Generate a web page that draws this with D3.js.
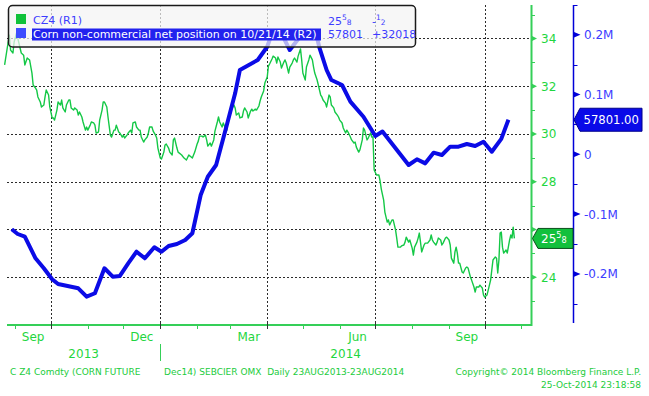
<!DOCTYPE html>
<html>
<head>
<meta charset="utf-8">
<script src="https://cdn.jsdelivr.net/npm/d3@7/dist/d3.min.js"></script>
<style>
html,body{margin:0;padding:0;background:#ffffff;overflow:hidden;}
svg{display:block;font-family:"DejaVu Sans",Verdana,sans-serif;}
</style>
</head>
<body>
<svg id="chart" width="649" height="396"></svg>
<script>
// ---------------- data ----------------
const cornSeries = [
["2013-08-23",32.89],["2013-08-26",33.85],["2013-08-27",34.14],["2013-08-28",33.51],["2013-08-30",33.39],
["2013-08-31",33.85],["2013-09-02",34.23],["2013-09-03",34.02],["2013-09-05",33.60],["2013-09-06",33.39],
["2013-09-08",33.30],["2013-09-09",32.89],["2013-09-11",33.18],["2013-09-13",33.10],["2013-09-15",32.55],
["2013-09-16",32.05],["2013-09-18",31.92],["2013-09-19",31.84],["2013-09-20",31.55],["2013-09-22",31.34],
["2013-09-23",31.13],["2013-09-25",31.21],["2013-09-26",31.55],["2013-09-27",31.84],["2013-09-29",31.63],
["2013-09-30",31.13],["2013-10-02",30.67],["2013-10-03",30.67],["2013-10-04",30.58],["2013-10-06",31.00],
["2013-10-07",31.34],["2013-10-09",31.21],["2013-10-10",31.42],["2013-10-11",31.09],["2013-10-13",30.92],
["2013-10-14",31.21],["2013-10-16",31.42],["2013-10-17",31.42],["2013-10-18",31.09],["2013-10-20",31.00],
["2013-10-21",31.09],["2013-10-23",31.00],["2013-10-24",30.79],["2013-10-25",30.92],["2013-10-27",30.71],
["2013-10-28",30.50],["2013-10-30",30.16],["2013-10-31",30.29],["2013-11-01",30.16],["2013-11-03",30.37],
["2013-11-04",30.50],["2013-11-06",30.46],["2013-11-07",30.37],["2013-11-08",30.04],["2013-11-10",30.08],
["2013-11-11",30.58],["2013-11-13",31.00],["2013-11-14",31.34],["2013-11-15",31.34],["2013-11-17",31.13],
["2013-11-18",30.71],["2013-11-20",29.95],["2013-11-21",29.87],["2013-11-23",30.16],["2013-11-24",30.16],
["2013-11-25",30.37],["2013-11-27",30.08],["2013-11-28",30.04],["2013-11-30",29.87],["2013-12-01",29.95],
["2013-12-02",29.83],["2013-12-04",29.95],["2013-12-05",30.04],["2013-12-07",30.16],["2013-12-08",30.04],
["2013-12-09",30.46],["2013-12-11",30.50],["2013-12-12",30.29],["2013-12-14",30.16],["2013-12-15",30.16],
["2013-12-16",29.87],["2013-12-18",29.66],["2013-12-19",29.75],["2013-12-21",29.87],["2013-12-22",30.04],
["2013-12-23",30.29],["2013-12-25",30.29],["2013-12-26",30.12],["2013-12-28",29.95],["2013-12-29",29.83],
["2013-12-30",29.41],["2014-01-01",28.99],["2014-01-02",28.95],["2014-01-04",29.24],["2014-01-05",29.54],
["2014-01-06",29.58],["2014-01-08",29.41],["2014-01-09",29.24],["2014-01-11",29.12],["2014-01-12",29.75],
["2014-01-13",29.83],["2014-01-15",29.41],["2014-01-16",29.24],["2014-01-19",29.12],["2014-01-21",28.99],
["2014-01-23",28.91],["2014-01-25",29.12],["2014-01-26",29.08],["2014-01-28",28.99],["2014-01-30",29.24],
["2014-02-01",29.58],["2014-02-02",29.70],["2014-02-03",29.91],["2014-02-05",29.91],["2014-02-06",29.87],
["2014-02-08",29.95],["2014-02-09",29.75],["2014-02-10",29.49],["2014-02-12",29.62],["2014-02-13",29.49],
["2014-02-15",29.75],["2014-02-16",30.12],["2014-02-18",30.50],["2014-02-19",30.71],["2014-02-20",30.50],
["2014-02-22",30.29],["2014-02-23",30.46],["2014-02-25",30.21],["2014-02-26",30.16],["2014-02-27",30.67],
["2014-03-01",30.83],["2014-03-02",31.04],["2014-03-04",31.21],["2014-03-05",31.09],["2014-03-06",30.79],
["2014-03-08",30.88],["2014-03-09",30.67],["2014-03-11",30.71],["2014-03-12",30.96],["2014-03-13",31.09],
["2014-03-15",30.92],["2014-03-16",30.67],["2014-03-18",30.96],["2014-03-19",31.04],["2014-03-20",30.96],
["2014-03-22",31.04],["2014-03-23",31.00],["2014-03-25",31.17],["2014-03-26",31.38],["2014-03-27",31.55],
["2014-03-29",31.80],["2014-03-30",32.13],["2014-04-01",32.38],["2014-04-02",32.84],["2014-04-03",32.93],
["2014-04-05",33.14],["2014-04-06",33.26],["2014-04-08",33.18],["2014-04-09",32.97],["2014-04-10",33.22],
["2014-04-12",33.01],["2014-04-13",32.76],["2014-04-15",33.01],["2014-04-16",33.10],["2014-04-17",32.97],
["2014-04-19",32.55],["2014-04-20",32.80],["2014-04-22",32.97],["2014-04-23",33.10],["2014-04-24",33.18],
["2014-04-26",33.01],["2014-04-27",33.26],["2014-04-29",33.56],["2014-04-30",33.10],["2014-05-01",32.55],
["2014-05-03",32.26],["2014-05-04",32.80],["2014-05-06",33.10],["2014-05-07",33.30],["2014-05-09",33.10],
["2014-05-10",32.80],["2014-05-11",32.55],["2014-05-13",32.26],["2014-05-14",32.05],["2014-05-16",31.63],
["2014-05-17",31.55],["2014-05-18",31.42],["2014-05-20",31.29],["2014-05-21",31.13],["2014-05-23",31.63],
["2014-05-24",31.55],["2014-05-25",31.21],["2014-05-27",31.09],["2014-05-28",30.92],["2014-05-30",30.79],
["2014-05-31",30.71],["2014-06-01",30.58],["2014-06-03",30.46],["2014-06-04",30.25],["2014-06-06",30.04],
["2014-06-07",30.16],["2014-06-08",30.08],["2014-06-10",29.87],["2014-06-11",29.75],["2014-06-13",29.62],
["2014-06-14",29.66],["2014-06-15",29.45],["2014-06-17",29.24],["2014-06-18",29.33],["2014-06-20",29.75],
["2014-06-21",30.25],["2014-06-22",30.16],["2014-06-24",29.75],["2014-06-25",29.83],["2014-06-27",30.04],
["2014-06-28",29.87],["2014-06-29",29.87],["2014-06-30",28.49],["2014-07-02",28.28],["2014-07-04",28.28],
["2014-07-05",28.03],["2014-07-06",27.69],["2014-07-08",27.23],["2014-07-09",26.73],["2014-07-11",26.31],
["2014-07-12",26.40],["2014-07-13",26.19],["2014-07-15",26.40],["2014-07-16",26.40],["2014-07-18",25.98],
["2014-07-19",25.64],["2014-07-20",25.26],["2014-07-22",25.26],["2014-07-23",25.31],["2014-07-25",25.35],
["2014-07-26",25.47],["2014-07-27",25.68],["2014-07-29",25.47],["2014-07-30",25.56],["2014-08-01",25.22],
["2014-08-02",24.93],["2014-08-03",25.26],["2014-08-05",25.47],["2014-08-06",25.64],["2014-08-07",25.85],
["2014-08-08",25.47],["2014-08-09",25.06],["2014-08-11",25.35],["2014-08-12",25.43],["2014-08-14",25.43],
["2014-08-16",25.56],["2014-08-17",25.77],["2014-08-18",25.56],["2014-08-19",25.47],["2014-08-21",25.35],
["2014-08-22",25.47],["2014-08-23",25.64],["2014-08-25",25.56],["2014-08-26",25.35],["2014-08-27",25.43],
["2014-08-29",25.64],["2014-08-30",25.68],["2014-09-01",25.56],["2014-09-02",25.35],["2014-09-03",24.80],
["2014-09-05",24.59],["2014-09-06",25.06],["2014-09-07",25.26],["2014-09-08",25.01],["2014-09-09",24.59],
["2014-09-10",24.59],["2014-09-12",24.22],["2014-09-13",24.18],["2014-09-15",24.39],["2014-09-16",24.43],
["2014-09-17",24.39],["2014-09-19",24.01],["2014-09-20",23.88],["2014-09-22",23.59],["2014-09-23",23.38],
["2014-09-24",23.59],["2014-09-26",23.59],["2014-09-27",23.67],["2014-09-29",23.55],["2014-09-30",23.26],
["2014-10-01",23.17],["2014-10-03",23.26],["2014-10-04",23.46],["2014-10-06",23.88],["2014-10-07",24.30],
["2014-10-08",24.72],["2014-10-10",24.85],["2014-10-11",24.80],["2014-10-12",24.18],["2014-10-13",24.72],
["2014-10-14",25.85],["2014-10-15",25.89],["2014-10-16",25.26],["2014-10-17",25.01],["2014-10-19",25.14],
["2014-10-20",25.01],["2014-10-22",25.56],["2014-10-23",25.77],["2014-10-24",25.64],["2014-10-25",26.10],
["2014-10-26",25.625]
];

const netSeries = [
["2013-08-29",-125400],["2013-09-03",-133300],["2013-09-09",-137800],["2013-09-18",-174000],
["2013-09-25",-190600],["2013-10-02",-209000],["2013-10-07",-216900],["2013-10-24",-224100],
["2013-10-31",-238100],["2013-11-07",-232400],["2013-11-15",-190600],["2013-11-22",-204700],
["2013-11-28",-203500],["2013-12-05",-182300],["2013-12-12",-162900],["2013-12-19",-173900],
["2013-12-27",-155500],["2014-01-02",-162900],["2014-01-08",-153300],["2014-01-15",-150000],
["2014-01-22",-143300],["2014-01-28",-132100],["2014-02-04",-68100],["2014-02-10",-37500],
["2014-02-17",-17900],["2014-02-26",49000],["2014-03-05",102000],["2014-03-09",141100],
["2014-03-24",157700],["2014-04-01",179900],["2014-04-05",202800],["2014-04-12",206200],
["2014-04-20",174400],["2014-04-29",197800],["2014-05-07",201200],["2014-05-13",194500],
["2014-05-15",177800],["2014-05-21",141000],["2014-05-25",124200],["2014-06-03",115900],
["2014-06-10",88000],["2014-06-21",62900],["2014-07-01",30600],["2014-07-07",38100],
["2014-07-29",-17900],["2014-08-05",-8400],["2014-08-12",-15100],["2014-08-19",2700],
["2014-08-26",-1200],["2014-09-02",12700],["2014-09-09",12700],["2014-09-16",17200],
["2014-09-23",13900],["2014-09-30",21100],["2014-10-07",4300],["2014-10-15",25783],
["2014-10-21",57801]
];

const xDomain = ["2013-08-25","2014-11-09"];
const cornDomain = [22, 35.4];
const netDomain = [-285500, 249700];
const cornTicks = [24,26,28,30,32,34];
const cornMinorTicks = [23,25,27,29,31,33,35];
const netTicks = [-200000,-100000,0,100000,200000];
const netTickLabels = ["-0.2M","-0.1M","0","0.1M","0.2M"];
const netMinorTicks = [-250000,-150000,-50000,50000,150000,250000];
const quarterGrid = ["2013-10-01","2014-01-01","2014-04-01","2014-07-01","2014-10-01"];
const monthLabelStarts = ["2013-09-01","2013-12-01","2014-03-01","2014-06-01","2014-09-01"];
const monthLabels = ["Sep","Dec","Mar","Jun","Sep"];
const yearLabels = ["2013","2014"];
const yearBreak = "2014-01-01";
const legendNames = ["CZ4 (R1)","Corn non-commercial net position on 10/21/14 (R2)"];
const legendLast = [["25","5","8"],["57801"]];
const legendChange = [["-","1","2"],["+32018"]];
const lastCornLabel = ["25","5","8"];
const lastNetLabel = "57801.00";
const footerLeft = "C Z4 Comdty (CORN FUTURE";
const footerMid = "Dec14) SEBCIER OMX\u00A0 Daily 23AUG2013-23AUG2014";
const footerRight = ["Copyright\u00A9 2014 Bloomberg Finance L.P.","25-Oct-2014 23:18:58"];

// ---------------- styles ----------------
const C = {
  green:"#14c846", greenAxis:"#35cf58", greenText:"#1fd640",
  blue:"#0b0be6", blueAxis:"#0000d8", blueText:"#3c3cff",
  grid:"#2b2b2b"
};

// ---------------- layout ----------------
const X0 = 7, X1 = 531, YT = 5, YB = 325, XR = 573.5;
const parse = d3.timeParse("%Y-%m-%d");
const x = d3.scaleTime().domain(xDomain.map(parse)).range([X0, X1]);
const yL = d3.scaleLinear().domain(cornDomain).range([YB, YT]);
const yR = d3.scaleLinear().domain(netDomain).range([YB, YT]);

const svg = d3.select("#chart");
svg.append("rect").attr("width",649).attr("height",396).attr("fill","#fff");

// grid
const grid = svg.append("g").attr("stroke", C.grid).attr("stroke-width", 1).attr("stroke-dasharray", "2,2");
grid.selectAll("line.h").data(cornTicks).join("line").attr("class","h")
  .attr("x1", X0).attr("x2", X1)
  .attr("y1", d => Math.round(yL(d)) + 0.5).attr("y2", d => Math.round(yL(d)) + 0.5);
grid.selectAll("line.v").data(quarterGrid).join("line").attr("class","v")
  .attr("x1", d => Math.round(x(parse(d))) + 0.5).attr("x2", d => Math.round(x(parse(d))) + 0.5)
  .attr("y1", YT).attr("y2", YB);

// lines
const cornLine = d3.line().x(d => x(parse(d[0]))).y(d => yL(d[1]));
svg.append("path").datum(cornSeries).attr("d", cornLine)
  .attr("fill","none").attr("stroke", C.green).attr("stroke-width", 1.4).attr("stroke-linejoin","round");
const netLine = d3.line().x(d => x(parse(d[0]))).y(d => yR(d[1]));
svg.append("path").datum(netSeries).attr("d", netLine)
  .attr("fill","none").attr("stroke", C.blue).attr("stroke-width", 4)
  .attr("stroke-linejoin","round").attr("stroke-linecap","butt");

// fraction text helper
function fracText(g, xx, yy, parts, size, color){
  const t = g.append("text").attr("x", xx).attr("y", yy).attr("fill", color).attr("font-size", size);
  t.append("tspan").text(parts[0]);
  if (parts.length > 1) {
    t.append("tspan").attr("dy", -size * 0.42).attr("font-size", size * 0.68).text(parts[1]);
    t.append("tspan").attr("dy", size * 0.42).attr("font-size", size * 0.68).text(parts[2]);
  }
  return t;
}

// legend
const lg = svg.append("g");
lg.append("rect").attr("x", 8.5).attr("y", 5.5).attr("width", 407).attr("height", 41.5).attr("rx", 4)
  .attr("fill","rgba(244,244,244,0.72)").attr("stroke","#1a1a1a").attr("stroke-width",1.5);
lg.append("rect").attr("x",16).attr("y",14).attr("width",10).attr("height",10).attr("fill","#10c23a");
lg.append("rect").attr("x",16).attr("y",28).attr("width",10).attr("height",10).attr("fill","#3d4cff");
lg.append("text").attr("x",33).attr("y",24).attr("font-size",11).attr("fill",C.blueText).text(legendNames[0]);
lg.append("rect").attr("x",32).attr("y",28.5).attr("width",289).attr("height",12).attr("fill","#2222ee");
lg.append("text").attr("x",33).attr("y",38).attr("font-size",11).attr("fill","#ffffff").text(legendNames[1]);
fracText(lg, 328, 24.5, legendLast[0], 11, C.blueText);
fracText(lg, 372, 24.5, legendChange[0], 11, C.blueText);
fracText(lg, 328, 38, legendLast[1], 11, C.blueText);
fracText(lg, 372, 38, legendChange[1], 11, C.blueText);

// bottom axis
const bx = svg.append("g");
bx.append("line").attr("x1", X0).attr("x2", X1).attr("y1", YB).attr("y2", YB)
  .attr("stroke", C.greenAxis).attr("stroke-width", 2);
const months = d3.timeMonth.range(x.domain()[0], x.domain()[1]);
bx.selectAll("line.mt").data(months).join("line").attr("class","mt")
  .attr("x1", d => Math.round(x(d)) + 0.5).attr("x2", d => Math.round(x(d)) + 0.5)
  .attr("y1", d => d.getMonth() % 3 === 0 ? 321 : 325)
  .attr("y2", 329)
  .attr("stroke", d => d.getMonth() % 3 === 0 ? "#333" : C.greenAxis).attr("stroke-width", 1);
bx.selectAll("text.ml").data(monthLabelStarts).join("text").attr("class","ml")
  .attr("x", d => { const s = parse(d); const e = d3.timeMonth.offset(s, 1); return (x(s) + x(e)) / 2; })
  .attr("y", 341).attr("text-anchor","middle").attr("font-size",12).attr("fill",C.greenText)
  .text((d,i) => monthLabels[i]);
const yb = x(parse(yearBreak));
const yearCenters = [(X0 + yb) / 2, (yb + X1) / 2];
bx.selectAll("text.yl").data(yearLabels).join("text").attr("class","yl")
  .attr("x", (d,i) => yearCenters[i]).attr("y", 358).attr("text-anchor","middle")
  .attr("font-size",12).attr("fill",C.greenText).text(d => d);
bx.append("line").attr("x1", Math.round(yb)+0.5).attr("x2", Math.round(yb)+0.5).attr("y1",344).attr("y2",361)
  .attr("stroke",C.greenAxis).attr("stroke-width",1);

// last values
const lastNet = netSeries[netSeries.length - 1][1];
const yn = yR(lastNet);
const lastCorn = cornSeries[cornSeries.length - 1][1];
const yc = yL(lastCorn);

// left-series axis (green, R1) on the right
const ga = svg.append("g");
ga.append("line").attr("x1", X1 + 0.5).attr("x2", X1 + 0.5).attr("y1", YT).attr("y2", YB + 1)
  .attr("stroke", C.greenAxis).attr("stroke-width", 2);
ga.selectAll("path.tk").data(cornTicks).join("path").attr("class","tk")
  .attr("d", d => { const yy = yL(d); return `M${X1},${yy-3}L${X1+6},${yy}L${X1},${yy+3}Z`; })
  .attr("fill", C.greenAxis);
ga.selectAll("line.mn").data(cornMinorTicks).join("line").attr("class","mn")
  .attr("x1", X1).attr("x2", X1 + 4).attr("y1", d => Math.round(yL(d)) + 0.5).attr("y2", d => Math.round(yL(d)) + 0.5)
  .attr("stroke", C.greenAxis).attr("stroke-width", 1);
// the tick label hidden under the last-value tag is not drawn (as in the reference)
ga.selectAll("text").data(cornTicks.filter(d => Math.abs(yL(d) - yc) > 14)).join("text")
  .attr("x", X1 + 10).attr("y", d => yL(d) + 4.5).attr("font-size", 12).attr("fill", C.greenText)
  .text(d => d);

// right axis (blue, R2)
const ba = svg.append("g");
ba.append("line").attr("x1", XR).attr("x2", XR).attr("y1", YT).attr("y2", YB - 2)
  .attr("stroke", C.blueAxis).attr("stroke-width", 1.5);
ba.selectAll("path.tk").data(netTicks).join("path").attr("class","tk")
  .attr("d", d => { const yy = yR(d); return `M${XR},${yy-3}L${XR+7},${yy}L${XR},${yy+3}Z`; })
  .attr("fill", C.blueAxis);
ba.selectAll("line.mn").data(netMinorTicks).join("line").attr("class","mn")
  .attr("x1", XR).attr("x2", XR + 4).attr("y1", d => Math.round(yR(d)) + 0.5).attr("y2", d => Math.round(yR(d)) + 0.5)
  .attr("stroke", C.blueAxis).attr("stroke-width", 1);
ba.selectAll("text").data(netTicks).join("text")
  .attr("x", XR + 10.5).attr("y", d => yR(d) + 4.5).attr("font-size", 12).attr("fill", C.blueText)
  .text((d,i) => netTickLabels[i]);

// last-value tags
svg.append("path")
  .attr("d", `M${XR+0.5},${yn}L${XR+6.5},${yn-11.5}L642,${yn-11.5}L642,${yn+11.5}L${XR+6.5},${yn+11.5}Z`)
  .attr("fill", "#0a0ae8").attr("stroke","#00008a").attr("stroke-width",1);
svg.append("text").attr("x", XR + 10).attr("y", yn + 4.5).attr("font-size", 11.6).attr("fill","#fff").text(lastNetLabel);

svg.append("path")
  .attr("d", `M${X1+1.5},${yc}L${X1+7},${yc-10}L${XR-0.5},${yc-10}L${XR-0.5},${yc+10}L${X1+7},${yc+10}Z`)
  .attr("fill", "#12c03c").attr("stroke","#0b4d1a").attr("stroke-width",1);
fracText(svg, X1 + 10, yc + 5, lastCornLabel, 12, "#ffffff");

// footer
const ft = svg.append("g").attr("font-size", 9).attr("fill", "#1ccc3c");
ft.append("text").attr("x", 10).attr("y", 374.5).text(footerLeft);
ft.append("text").attr("x", 164).attr("y", 374.5).text(footerMid);
ft.append("text").attr("x", 641).attr("y", 374.5).attr("text-anchor","end").text(footerRight[0]);
ft.append("text").attr("x", 641).attr("y", 387.5).attr("text-anchor","end").text(footerRight[1]);
</script>
</body>
</html>
